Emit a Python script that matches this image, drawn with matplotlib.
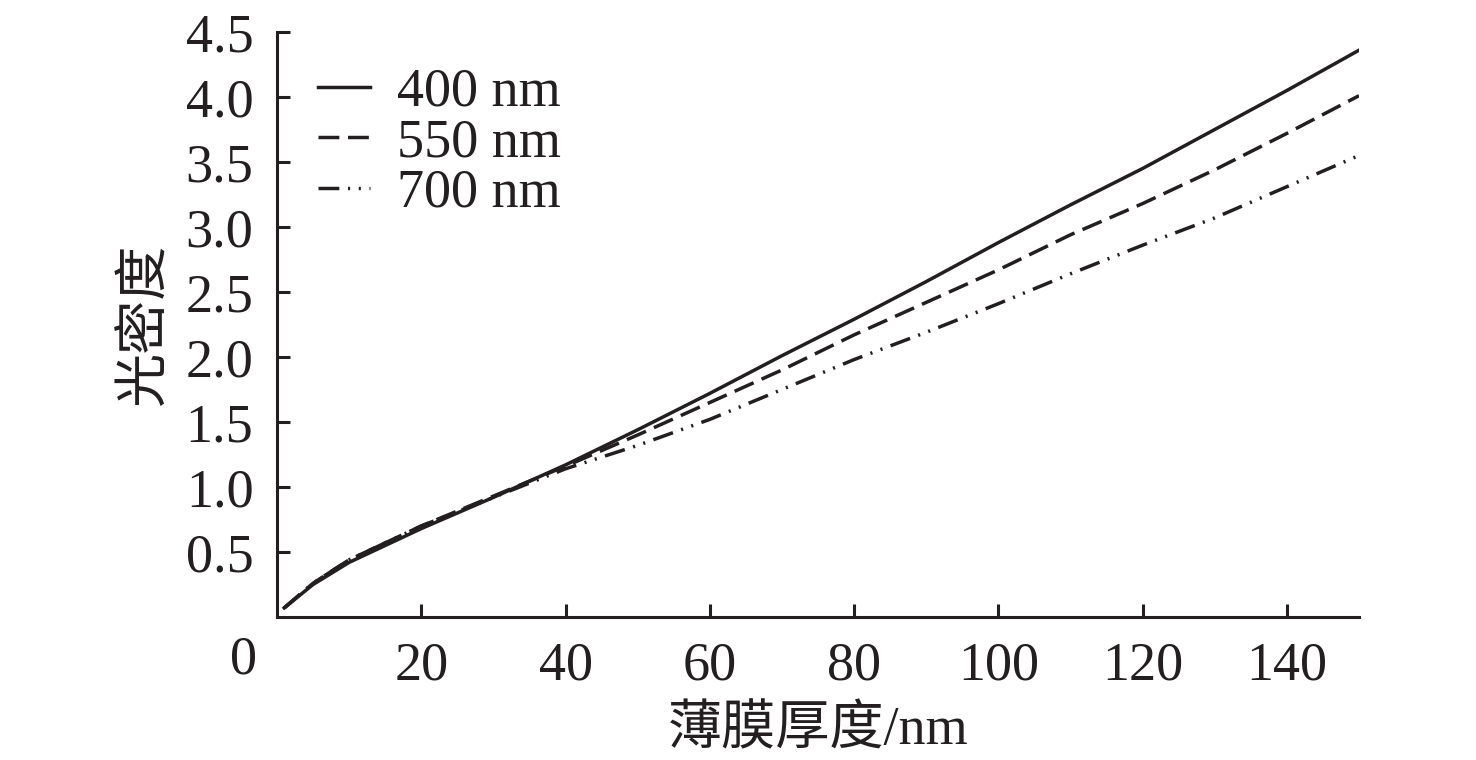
import matplotlib
matplotlib.use("Agg")
import matplotlib.pyplot as plt

plt.rcParams['font.family'] = ['Liberation Serif', 'Noto Sans CJK SC']
plt.rcParams['font.size'] = 39

# film thickness (nm) and optical density for three wavelengths
thickness = [1, 5, 10, 20, 30, 40, 50, 60, 70, 80, 90, 100, 110, 120, 130, 140, 150]
od_400 = [0.07, 0.25, 0.42, 0.68, 0.92, 1.17, 1.44, 1.72, 2.01, 2.29, 2.58, 2.88, 3.17, 3.45, 3.75, 4.05, 4.36]
od_550 = [0.07, 0.26, 0.44, 0.70, 0.93, 1.16, 1.40, 1.65, 1.90, 2.17, 2.42, 2.67, 2.94, 3.18, 3.44, 3.72, 4.01]
od_700 = [0.07, 0.26, 0.44, 0.70, 0.92, 1.14, 1.32, 1.52, 1.75, 1.98, 2.19, 2.41, 2.64, 2.86, 3.07, 3.31, 3.55]
labels = ["400 nm", "550 nm", "700 nm"]
xticks = [20, 40, 60, 80, 100, 120, 140]
yticks = [0.5, 1.0, 1.5, 2.0, 2.5, 3.0, 3.5, 4.0, 4.5]

fig = plt.figure(figsize=(14.76, 7.6), dpi=100)
ax = fig.add_axes([277/1476, 1 - 617/760, (1359-277)/1476, (617-32)/760])

lw = 2.5
ax.plot(thickness, od_400, color="#231f20", lw=lw, ls="-", label=labels[0])
ax.plot(thickness, od_550, color="#231f20", lw=lw, ls=(0, (6, 2.5)), label=labels[1])
ax.plot(thickness, od_700, color="#231f20", lw=lw, ls=(0, (6, 2.5, 0.6, 2.5, 0.6, 2.5)), label=labels[2])

ax.set_xlim(0, 150)
ax.set_ylim(0, 4.5)
ax.set_xticks(xticks)
ax.set_yticks(yticks)
ax.set_xticklabels([str(t) for t in xticks])
ax.set_yticklabels([f"{t:.1f}" for t in yticks])
ax.tick_params(direction="in", length=9.5, width=2.2, pad=17, colors="#231f20")
for s in ["top", "right"]:
    ax.spines[s].set_visible(False)
for s in ["left", "bottom"]:
    ax.spines[s].set_linewidth(2.2)
    ax.spines[s].set_color("#231f20")

ax.text(-0.031, -0.074, "0", transform=ax.transAxes, ha="center", va="center", color="#231f20")

ax.set_xlabel("薄膜厚度/nm", color="#231f20")
ax.set_ylabel("光密度", color="#231f20")
ax.xaxis.set_label_coords(0.5, -0.152)
ax.yaxis.set_label_coords(-0.097, 0.5)

leg = ax.legend(loc="upper left", bbox_to_anchor=(0.038, 0.94), frameon=False,
                handlelength=0.95, handletextpad=0.5, labelspacing=0.0, borderpad=0,
                borderaxespad=0)
for t in leg.get_texts():
    t.set_color("#231f20")

fig.savefig("out.png", dpi=100)
